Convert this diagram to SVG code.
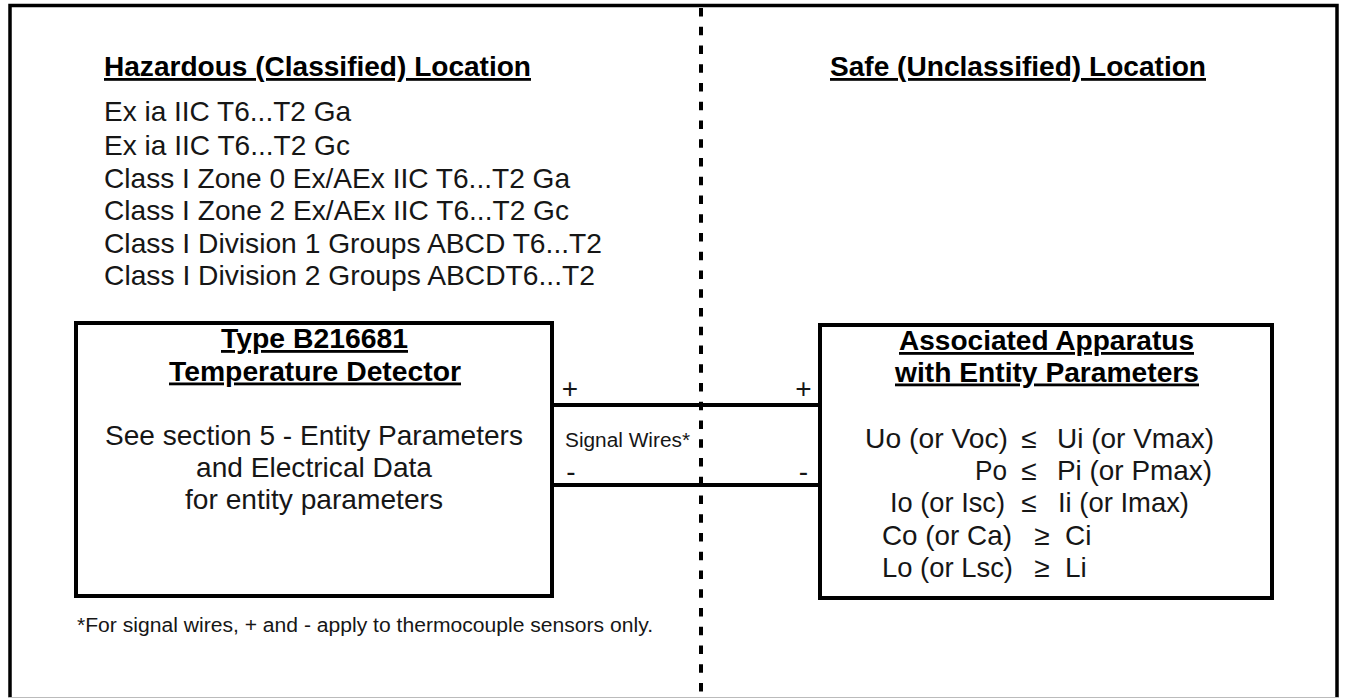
<svg xmlns="http://www.w3.org/2000/svg" width="1347" height="700" viewBox="0 0 1347 700">
  <style>
    text { font-family: "Liberation Sans", Arial, sans-serif; fill: #161616; }
    .h { font-weight: bold; font-size: 28px; fill: #000; text-decoration: underline; }
    .b { font-size: 28px; }
    .s { font-size: 20px; }
    .pm { font-size: 28px; text-anchor: middle; }
    .box { fill: #fff; stroke: #000; stroke-width: 4; }
    .wire { stroke: #000; stroke-width: 4; fill: none; }
    .c { text-anchor: middle; }
    .e { text-anchor: end; }
  </style>
  <rect x="0" y="0" width="1347" height="700" fill="#fff"/>
  <g id="frame">
    <path d="M10 698 V5.5 H1337 V698" fill="none" stroke="#000" stroke-width="3.5"/>
    <line x1="8" y1="697.5" x2="1339" y2="697.5" stroke="#bbb" stroke-width="1"/>
  </g>
  <g id="divider">
    <line x1="701" y1="8" x2="701" y2="700" stroke="#000" stroke-width="4" stroke-dasharray="8.5 10.25"/>
  </g>
  <g id="hazardous-location">
    <text class="h" x="104" y="76" textLength="427" lengthAdjust="spacingAndGlyphs">Hazardous (Classified) Location</text>
    <text class="b" x="104" y="120.5" textLength="247" lengthAdjust="spacingAndGlyphs">Ex ia IIC T6...T2 Ga</text>
    <text class="b" x="104" y="154.5" textLength="246" lengthAdjust="spacingAndGlyphs">Ex ia IIC T6...T2 Gc</text>
    <text class="b" x="104" y="187.5" textLength="466" lengthAdjust="spacingAndGlyphs">Class I Zone 0 Ex/AEx IIC T6...T2 Ga</text>
    <text class="b" x="104" y="220" textLength="465" lengthAdjust="spacingAndGlyphs">Class I Zone 2 Ex/AEx IIC T6...T2 Gc</text>
    <text class="b" x="104" y="252.5" textLength="498" lengthAdjust="spacingAndGlyphs">Class I Division 1 Groups ABCD T6...T2</text>
    <text class="b" x="104" y="285" textLength="491" lengthAdjust="spacingAndGlyphs">Class I Division 2 Groups ABCDT6...T2</text>
  </g>
  <g id="safe-location">
    <text class="h" x="830" y="76" textLength="376" lengthAdjust="spacingAndGlyphs">Safe (Unclassified) Location</text>
  </g>
  <g id="connectors">
    <line class="wire" x1="552" y1="405" x2="822" y2="405"/>
    <line class="wire" x1="552" y1="485" x2="822" y2="485"/>
    <text class="pm" x="570" y="397.5">+</text>
    <text class="pm" x="803.5" y="397.5">+</text>
    <text class="pm" x="571" y="481">-</text>
    <text class="pm" x="803.5" y="481">-</text>
    <text class="s" x="565" y="446.5" textLength="125" lengthAdjust="spacingAndGlyphs">Signal Wires*</text>
  </g>
  <g id="temperature-detector">
    <rect class="box" x="76" y="323" width="476" height="273"/>
    <text class="h c" x="314.5" y="348" textLength="187" lengthAdjust="spacingAndGlyphs">Type B216681</text>
    <text class="h c" x="315" y="380.5" textLength="292" lengthAdjust="spacingAndGlyphs">Temperature Detector</text>
    <text class="b c" x="314" y="445" textLength="418" lengthAdjust="spacingAndGlyphs">See section 5 - Entity Parameters</text>
    <text class="b c" x="314" y="477" textLength="236" lengthAdjust="spacingAndGlyphs">and Electrical Data</text>
    <text class="b c" x="314" y="509" textLength="258" lengthAdjust="spacingAndGlyphs">for entity parameters</text>
  </g>
  <g id="associated-apparatus">
    <rect class="box" x="820" y="325" width="452" height="273"/>
    <text class="h c" x="1046.5" y="350" textLength="295" lengthAdjust="spacingAndGlyphs">Associated Apparatus</text>
    <text class="h c" x="1047" y="381.5" textLength="304" lengthAdjust="spacingAndGlyphs">with Entity Parameters</text>
    <text class="b e" x="1008" y="447.5" textLength="143" lengthAdjust="spacingAndGlyphs">Uo (or Voc)</text>
    <text class="b c" x="1029" y="447.5">≤</text>
    <text class="b" x="1057" y="447.5" textLength="157" lengthAdjust="spacingAndGlyphs">Ui (or Vmax)</text>
    <text class="b e" x="1007" y="480" textLength="32" lengthAdjust="spacingAndGlyphs">Po</text>
    <text class="b c" x="1029" y="480">≤</text>
    <text class="b" x="1057" y="480" textLength="155" lengthAdjust="spacingAndGlyphs">Pi (or Pmax)</text>
    <text class="b e" x="1005" y="512" textLength="115" lengthAdjust="spacingAndGlyphs">Io (or Isc)</text>
    <text class="b c" x="1029" y="512">≤</text>
    <text class="b" x="1058" y="512" textLength="131" lengthAdjust="spacingAndGlyphs">Ii (or Imax)</text>
    <text class="b e" x="1012" y="545" textLength="130" lengthAdjust="spacingAndGlyphs">Co (or Ca)</text>
    <text class="b c" x="1042" y="545">≥</text>
    <text class="b" x="1065" y="545">Ci</text>
    <text class="b e" x="1013" y="577" textLength="131" lengthAdjust="spacingAndGlyphs">Lo (or Lsc)</text>
    <text class="b c" x="1042" y="577">≥</text>
    <text class="b" x="1065" y="577">Li</text>
  </g>
  <g id="footnote">
    <text class="s" x="77" y="631.5" textLength="576" lengthAdjust="spacingAndGlyphs">*For signal wires, + and - apply to thermocouple sensors only.</text>
  </g>
</svg>
